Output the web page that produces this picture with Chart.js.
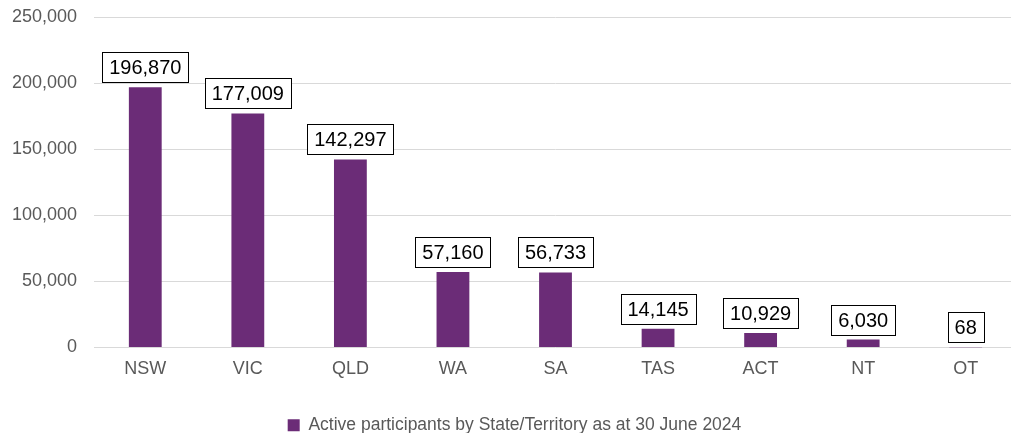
<!DOCTYPE html>
<html>
<head>
<meta charset="utf-8">
<script src="https://cdn.jsdelivr.net/npm/chart.js@4"></script>
<style>
html,body{margin:0;padding:0;background:#fff;overflow:hidden;}
#wrap{position:relative;width:1017px;height:433px;}
</style>
</head>
<body>
<div id="wrap"><canvas id="c"></canvas></div>
<script>
const categories = ["NSW","VIC","QLD","WA","SA","TAS","ACT","NT","OT"];
const participants = [196870,177009,142297,57160,56733,14145,10929,6030,68];
const seriesLabel = "Active participants by State/Territory as at 30 June 2024";
const yTicks = [0,50000,100000,150000,200000,250000];

const fmt = v => v.toLocaleString('en-US');
const FONT = '"Liberation Sans", Arial, sans-serif';

const boxLabels = {
  id: 'boxLabels',
  afterDatasetsDraw(chart) {
    const ctx = chart.ctx;
    const meta = chart.getDatasetMeta(0);
    ctx.save();
    ctx.font = '20px ' + FONT;
    ctx.textAlign = 'center';
    ctx.textBaseline = 'middle';
    meta.data.forEach((bar, i) => {
      const txt = fmt(chart.data.datasets[0].data[i]);
      const w = Math.round(ctx.measureText(txt).width + 14);
      const h = 30;
      const x = bar.x;
      const bottom = bar.y - 5;
      const top = Math.round(bottom - h);
      const left = Math.round(x - w/2);
      ctx.fillStyle = '#fff';
      ctx.fillRect(left + 0.5, top + 0.5, w, h);
      ctx.strokeStyle = '#000';
      ctx.lineWidth = 1;
      ctx.strokeRect(left + 0.5, top + 0.5, w, h);
      ctx.fillStyle = '#000';
      ctx.fillText(txt, x, top + h/2 + 1.5);
    });
    ctx.restore();
  }
};

const shiftLegend = {
  id: 'shiftLegend',
  afterLayout(chart) {
    if (chart.legend) { chart.legend.left += 6; chart.legend.right += 6; }
  }
};

new Chart(document.getElementById('c'), {
  type: 'bar',
  data: {
    labels: categories,
    datasets: [{
      label: seriesLabel,
      data: participants,
      backgroundColor: '#6B2C77',
      borderWidth: 0,
      categoryPercentage: 1,
      barPercentage: 0.32
    }]
  },
  options: {
    responsive: true,
    maintainAspectRatio: false,
    animation: false,
    layout: { padding: { left: 0, right: 0, top: 17, bottom: -11 } },
    plugins: {
      tooltip: { enabled: false },
      legend: {
        position: 'bottom',
        labels: {
          boxWidth: 12,
          boxHeight: 12,
          padding: 0,
          color: '#595959',
          font: { family: FONT, size: 17.5 }
        }
      }
    },
    scales: {
      x: {
        grid: { display: false },
        border: { display: false },
        afterFit(scale) { scale.height = 69; },
        ticks: {
          color: '#595959',
          padding: 3,
          font: { family: FONT, size: 18 }
        }
      },
      y: {
        min: 0,
        max: 250000,
        afterBuildTicks(scale) { scale.ticks = yTicks.map(v => ({ value: v })); },
        afterFit(scale) { scale.width = 94; scale.paddingTop = 0; scale.paddingBottom = 0; },
        grid: { color: '#D9D9D9', lineWidth: 1, drawTicks: false },
        border: { display: false },
        ticks: {
          color: '#595959',
          padding: 17,
          callback: v => fmt(v),
          font: { family: FONT, size: 18 }
        }
      }
    }
  },
  plugins: [boxLabels, shiftLegend]
});
</script>
</body>
</html>
